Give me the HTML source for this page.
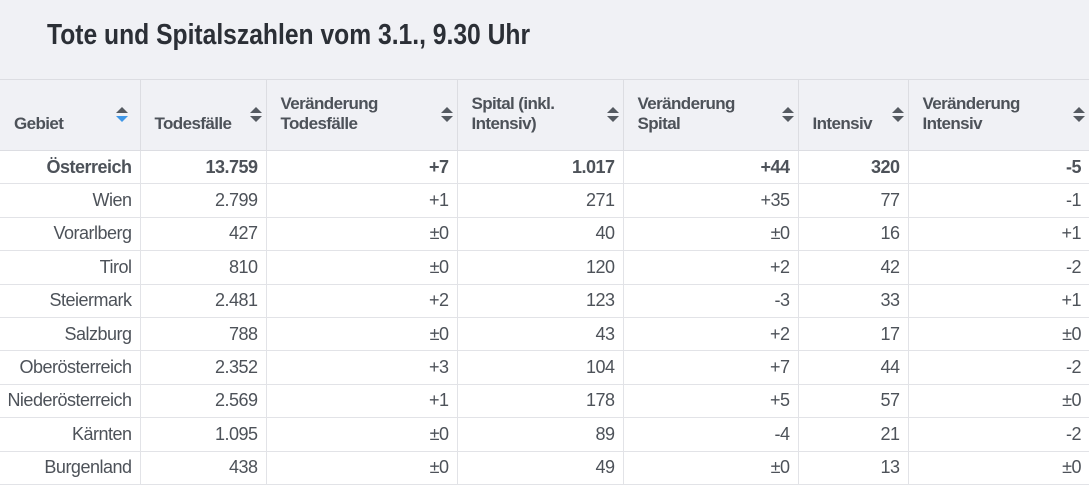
<!DOCTYPE html>
<html><head><meta charset="utf-8"><style>
body{margin:0;width:1089px;height:481px;overflow:hidden;background:#fff;font-family:"Liberation Sans",sans-serif;color:#4d5259}
#title{position:absolute;left:0;top:0;width:1089px;height:79px;background:#f0f1f5;border-bottom:1px solid #dcdde2}
#title span{position:absolute;left:47px;top:19px;font-size:29px;font-weight:bold;color:#2b2f36;transform:scaleX(0.85);transform-origin:left;white-space:nowrap}
table{position:absolute;left:0;top:80px;border-collapse:collapse;table-layout:fixed;width:1089px}
th{background:#f0f1f5;height:54px;box-sizing:content-box;vertical-align:bottom;text-align:left;font-size:17px;font-weight:bold;letter-spacing:-0.6px;line-height:20px;padding:0 30px 16px 14px;border-left:1px solid #dcdde2;border-bottom:1px solid #dcdde2;position:relative;color:#4d5259}
th:first-child{border-left:none}
td{height:32.4px;padding:0 8px 0 0;text-align:right;font-size:18px;letter-spacing:-0.5px;border-left:1px solid #e2e3e7;border-bottom:1px solid #e2e3e7;white-space:nowrap}
td:first-child{border-left:none}
tr.b td{font-weight:bold}
.s{position:absolute;right:10px;top:27px;width:0;height:0}
.s:before{content:"";position:absolute;left:-6px;top:0;border-left:6px solid transparent;border-right:6px solid transparent;border-bottom:6px solid #555a61}
.s:after{content:"";position:absolute;left:-6px;top:9px;border-left:6px solid transparent;border-right:6px solid transparent;border-top:6px solid #555a61}
.s.a:after{border-top-color:#3f97e8}
</style></head><body>
<div id="title"><span>Tote und Spitalszahlen vom 3.1., 9.30 Uhr</span></div>
<table>
<colgroup><col style="width:140px"><col style="width:126px"><col style="width:191px"><col style="width:166px"><col style="width:175px"><col style="width:110px"><col style="width:181px"></colgroup>
<thead><tr>
<th>Gebiet<i class="s a" style="right:18px"></i></th>
<th>Todesfälle<i class="s"></i></th>
<th>Veränderung<br>Todesfälle<i class="s"></i></th>
<th>Spital (inkl.<br>Intensiv)<i class="s"></i></th>
<th>Veränderung<br>Spital<i class="s"></i></th>
<th>Intensiv<i class="s"></i></th>
<th>Veränderung<br>Intensiv<i class="s"></i></th>
</tr></thead>
<tbody>
<tr class="b"><td>Österreich</td><td>13.759</td><td>+7</td><td>1.017</td><td>+44</td><td>320</td><td>-5</td></tr>
<tr><td>Wien</td><td>2.799</td><td>+1</td><td>271</td><td>+35</td><td>77</td><td>-1</td></tr>
<tr><td>Vorarlberg</td><td>427</td><td>±0</td><td>40</td><td>±0</td><td>16</td><td>+1</td></tr>
<tr><td>Tirol</td><td>810</td><td>±0</td><td>120</td><td>+2</td><td>42</td><td>-2</td></tr>
<tr><td>Steiermark</td><td>2.481</td><td>+2</td><td>123</td><td>-3</td><td>33</td><td>+1</td></tr>
<tr><td>Salzburg</td><td>788</td><td>±0</td><td>43</td><td>+2</td><td>17</td><td>±0</td></tr>
<tr><td>Oberösterreich</td><td>2.352</td><td>+3</td><td>104</td><td>+7</td><td>44</td><td>-2</td></tr>
<tr><td>Niederösterreich</td><td>2.569</td><td>+1</td><td>178</td><td>+5</td><td>57</td><td>±0</td></tr>
<tr><td>Kärnten</td><td>1.095</td><td>±0</td><td>89</td><td>-4</td><td>21</td><td>-2</td></tr>
<tr><td>Burgenland</td><td>438</td><td>±0</td><td>49</td><td>±0</td><td>13</td><td>±0</td></tr>
</tbody></table>
</body></html>
